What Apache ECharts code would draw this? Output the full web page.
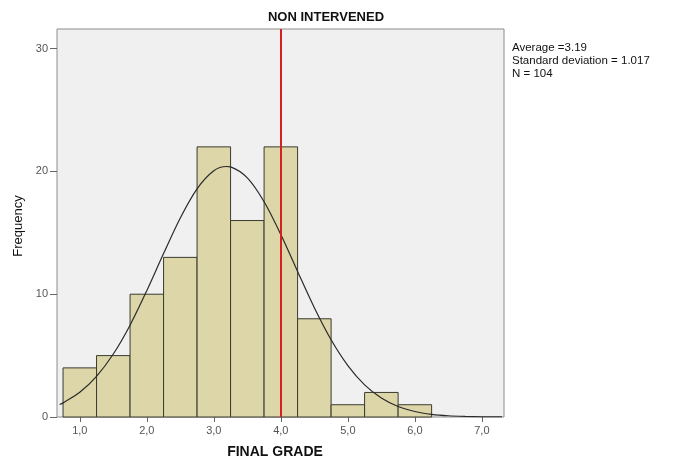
<!DOCTYPE html>
<html>
<head>
<meta charset="utf-8">
<script src="https://cdn.jsdelivr.net/npm/echarts@6/dist/echarts.min.js"></script>
<style>html,body{margin:0;padding:0;background:#fff;}#c{width:673px;height:458px;}</style>
</head>
<body>
<div id="c"></div>
<script>
// Histogram bins (lower edge, upper edge) and frequencies
var binStart = [0.75, 1.25, 1.75, 2.25, 2.75, 3.25, 3.75, 4.25, 4.75, 5.25, 5.75];
var binEnd   = [1.25, 1.75, 2.25, 2.75, 3.25, 3.75, 4.25, 4.75, 5.25, 5.75, 6.25];
var counts   = [4, 5, 10, 13, 22, 16, 22, 8, 1, 2, 1];
// Fitted normal curve
var curveX = [0.7, 0.75, 1.0, 1.25, 1.5, 1.75, 2.0, 2.25, 2.5, 2.75, 3.0, 3.19, 3.25, 3.5, 3.75, 4.0, 4.25, 4.5, 4.75, 5.0, 5.25, 5.5, 5.75, 6.0, 6.25, 6.5, 6.75, 7.0, 7.3];
var curveY = [1.02, 1.15, 2.01, 3.31, 5.13, 7.48, 10.29, 13.31, 16.21, 18.58, 20.05, 20.4, 20.37, 19.47, 17.53, 14.86, 11.85, 8.90, 6.29, 4.19, 2.62, 1.55, 0.86, 0.45, 0.22, 0.10, 0.045, 0.018, 0.005];
var refLineX = 4.0;
var xTicks = [1, 2, 3, 4, 5, 6, 7];
var yTicks = [0, 10, 20, 30];
var statsLines = ['Average =3.19', 'Standard deviation = 1.017', 'N = 104'];
var titleText = 'NON INTERVENED';
var xTitle = 'FINAL GRADE';
var yTitle = 'Frequency';

var histData = binStart.map(function (s, i) { return [s, binEnd[i], counts[i]]; });
var curveData = curveX.map(function (x, i) { return [x, curveY[i]]; });

var chart = echarts.init(document.getElementById('c'), null, { renderer: 'canvas' });
var font = 'Liberation Sans, Arial, sans-serif';
chart.setOption({
  animation: false,
  backgroundColor: '#ffffff',
  grid: {
    left: 57, right: 169, top: 29, bottom: 41,
    show: true, backgroundColor: '#f0f0f0', borderColor: '#8c8c8c', borderWidth: 1
  },
  xAxis: {
    type: 'value', min: 0.66, max: 7.33,
    axisLine: { show: false },
    splitLine: { show: false },
    axisTick: { show: true, length: 5, customValues: xTicks, lineStyle: { color: '#666' } },
    axisLabel: {
      customValues: xTicks, margin: 8, fontFamily: font, fontSize: 11, color: '#555',
      formatter: function (v) { return v.toFixed(1).replace('.', ','); }
    }
  },
  yAxis: {
    type: 'value', min: 0, max: 31.6,
    axisLine: { show: false },
    splitLine: { show: false },
    axisTick: { show: true, length: 7, customValues: yTicks, lineStyle: { color: '#666' } },
    axisLabel: { customValues: yTicks, margin: 9, fontFamily: font, fontSize: 11, color: '#555' }
  },
  series: [
    {
      type: 'custom',
      data: histData,
      encode: { x: [0, 1], y: 2 },
      renderItem: function (params, api) {
        var p0 = api.coord([api.value(0), 0]);
        var p1 = api.coord([api.value(1), api.value(2)]);
        return {
          type: 'rect',
          shape: { x: p0[0], y: p1[1], width: p1[0] - p0[0], height: p0[1] - p1[1] },
          style: { fill: '#dcd6a8', stroke: '#3a3a30', lineWidth: 1 }
        };
      },
      z: 2
    },
    {
      type: 'line', data: curveData, smooth: 0.3, symbol: 'none',
      lineStyle: { color: '#2a2a2a', width: 1.2 }, z: 3, clip: true
    },
    {
      type: 'line', data: [], z: 4,
      markLine: {
        silent: true, symbol: 'none', label: { show: false },
        lineStyle: { color: '#d42020', width: 2, type: 'solid' },
        data: [{ xAxis: refLineX }]
      }
    }
  ],
  graphic: [
    {
      type: 'text', x: 326, y: 17,
      style: { text: titleText, fontFamily: font, fontSize: 13, fontWeight: 'bold', fill: '#111', align: 'center', verticalAlign: 'middle' }
    },
    {
      type: 'text', x: 275, y: 452,
      style: { text: xTitle, fontFamily: font, fontSize: 14, fontWeight: 'bold', fill: '#111', align: 'center', verticalAlign: 'middle' }
    },
    {
      type: 'text', x: 18, y: 226, rotation: Math.PI / 2,
      style: { text: yTitle, fontFamily: font, fontSize: 13, fill: '#111', align: 'center', verticalAlign: 'middle' }
    },
    {
      type: 'text', left: 512, top: 41,
      style: { text: statsLines.join('\n'), fontFamily: font, fontSize: 11.5, lineHeight: 13, fill: '#111' }
    }
  ]
});
</script>
</body>
</html>
